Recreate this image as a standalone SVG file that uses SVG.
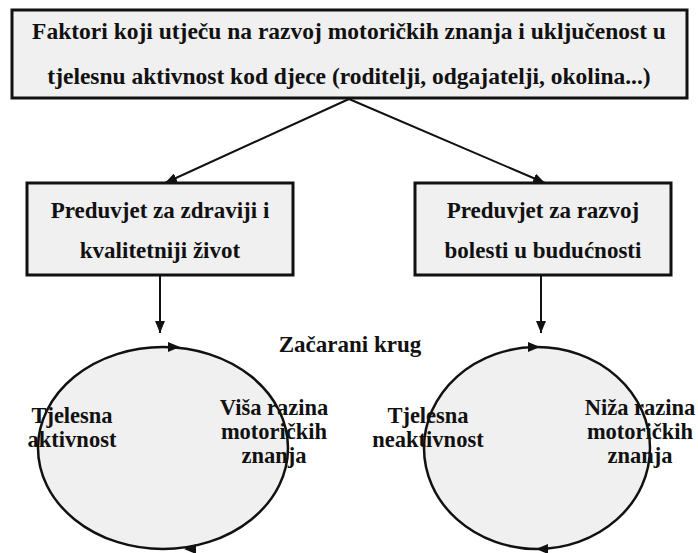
<svg xmlns="http://www.w3.org/2000/svg" width="698" height="553" viewBox="0 0 698 553">
<style>
.box{fill:#f0f0f0;stroke:#111;stroke-width:3}
.circ{fill:#f0f0f0;stroke:#111;stroke-width:2.5}
text{font-family:"Liberation Serif","Times New Roman",serif;font-weight:bold;fill:#111;text-anchor:middle}
.t{font-size:23.5px}
.b{font-size:23px}
.c{font-size:22.5px}
.edge{stroke:#111;stroke-width:2;fill:none}
.head{fill:#111}
</style>
<defs>
<marker id="ah" viewBox="0 0 12 10" refX="12" refY="5" markerWidth="12" markerHeight="10" markerUnits="userSpaceOnUse" orient="auto"><path d="M0,0 L12,5 L0,10 z" fill="#111"/></marker>
</defs>
<rect width="698" height="553" fill="#fff"/>
<g id="connectors">
<line class="edge" x1="349" y1="99" x2="165" y2="183" marker-end="url(#ah)"/>
<line class="edge" x1="349" y1="99" x2="545" y2="183" marker-end="url(#ah)"/>
<line class="edge" x1="160" y1="276" x2="160" y2="333" marker-end="url(#ah)"/>
<line class="edge" x1="541" y1="276" x2="541" y2="333" marker-end="url(#ah)"/>
</g>
<g id="top">
<rect class="box" x="12" y="10" width="675" height="88"/>
<text class="t" x="349" y="39">Faktori koji utječu na razvoj motoričkih znanja i uključenost u</text>
<text class="t" x="349" y="84">tjelesnu aktivnost kod djece (roditelji, odgajatelji, okolina...)</text>
</g>
<g id="left-box">
<rect class="box" x="27" y="183" width="266" height="92"/>
<text class="b" x="160" y="218">Preduvjet za zdraviji i</text>
<text class="b" x="160" y="258">kvalitetniji život</text>
</g>
<g id="right-box">
<rect class="box" x="415" y="183" width="256" height="92"/>
<text class="b" x="543" y="218">Preduvjet za razvoj</text>
<text class="b" x="543" y="258">bolesti u budućnosti</text>
</g>
<g id="label">
<text class="b" x="350" y="352">Začarani krug</text>
</g>
<g id="left-cycle">
<ellipse class="circ" cx="163" cy="448" rx="125" ry="101"/>
<path class="head" d="M168,342 L180,347 L168,352 z"/>
<path class="head" d="M196,544 L184,549 L196,554 z"/>
<text class="c" x="72" y="423">Tjelesna</text>
<text class="c" x="72" y="447">aktivnost</text>
<text class="c" x="274" y="415">Viša razina</text>
<text class="c" x="274" y="439">motoričkih</text>
<text class="c" x="274" y="463">znanja</text>
</g>
<g id="right-cycle">
<ellipse class="circ" cx="537" cy="448" rx="113" ry="101"/>
<path class="head" d="M528,342 L540,347 L528,352 z"/>
<path class="head" d="M548,544 L536,549 L548,554 z"/>
<text class="c" x="428" y="423">Tjelesna</text>
<text class="c" x="428" y="447">neaktivnost</text>
<text class="c" x="640" y="415">Niža razina</text>
<text class="c" x="640" y="439">motoričkih</text>
<text class="c" x="640" y="463">znanja</text>
</g>
</svg>
